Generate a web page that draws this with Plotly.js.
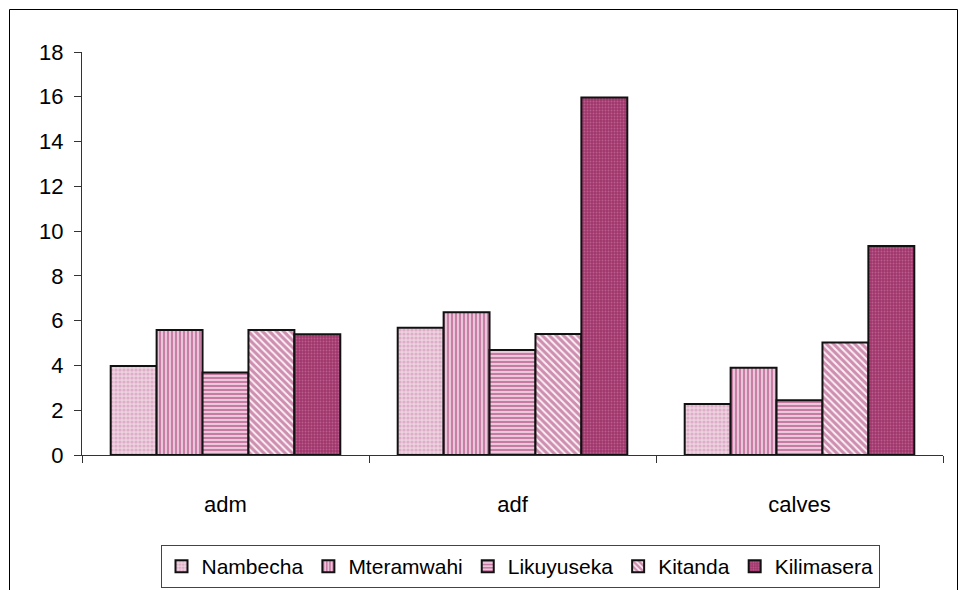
<!DOCTYPE html>
<html>
<head>
<meta charset="utf-8">
<script src="https://cdn.plot.ly/plotly-3.0.1.min.js"></script>
<style>
  html, body { margin: 0; padding: 0; background: #ffffff; }
  #chart { width: 959px; height: 590px; }
</style>
</head>
<body>
<div id="chart"></div>
<script>
// ---- data ----
var categories = ["adm", "adf", "calves"];
var seriesNames = ["Nambecha", "Mteramwahi", "Likuyuseka", "Kitanda", "Kilimasera"];
var nambecha   = [3.97, 5.68, 2.28];
var mteramwahi = [5.58, 6.38, 3.90];
var likuyuseka = [3.69, 4.69, 2.44];
var kitanda    = [5.58, 5.40, 5.03];
var kilimasera = [5.39, 15.97, 9.34];
var yTicks = [0, 2, 4, 6, 8, 10, 12, 14, 16, 18];

var seriesValues = [nambecha, mteramwahi, likuyuseka, kitanda, kilimasera];

// ---- styles (kept separate from data) ----
var styles = [
  {shape: ".",  fg: "#cf88ad", bg: "#edd2e0", size: 4, solidity: 0.5},
  {shape: "|",  fg: "#9c2865", bg: "#f3d6e4", size: 4, solidity: 0.6},
  {shape: "-",  fg: "#9c2865", bg: "#f0cfe0", size: 4, solidity: 0.55},
  {shape: "\\", fg: "#a02d69", bg: "#fbeff5", size: 5, solidity: 0.6},
  {shape: ".",  fg: "#d884ae", bg: "#9f376b", size: 3, solidity: 0.3}
];

var fontFamily = "Liberation Sans, Arial, sans-serif";
var fontSize = 22;

var traces = seriesNames.map(function (name, i) {
  var s = styles[i];
  return {
    type: "bar",
    name: name,
    x: categories,
    y: seriesValues[i],
    marker: {
      color: s.bg,
      line: {color: "#111111", width: 2},
      pattern: {
        shape: s.shape,
        fgcolor: s.fg,
        bgcolor: s.bg,
        size: s.size,
        solidity: s.solidity,
        fillmode: "overlay"
      }
    },
    hoverinfo: "x+y+name"
  };
});

// plot-area geometry in pixels
var W = 959, H = 590;
var mL = 82, mR = 16, mT = 52, mB = 135;
var pw = W - mL - mR, ph = H - mT - mB;
function px2paperX(px) { return (px - mL) / pw; }
function px2paperY(py) { return (H - mB - py) / ph; }

var layout = {
  width: W,
  height: H,
  margin: {l: mL, r: mR, t: mT, b: mB, pad: 0, autoexpand: false},
  paper_bgcolor: "#ffffff",
  plot_bgcolor: "#ffffff",
  barmode: "group",
  bargap: 0.2,
  bargroupgap: 0,
  font: {family: fontFamily, size: fontSize, color: "#000000"},
  showlegend: true,
  legend: {
    orientation: "h",
    xref: "container",
    yref: "container",
    x: 520 / W,
    xanchor: "center",
    y: 1 - 545 / H,
    yanchor: "top",
    bgcolor: "#ffffff",
    bordercolor: "#444444",
    borderwidth: 1,
    font: {family: fontFamily, size: 21, color: "#000000"},
    traceorder: "normal",
    itemwidth: 30
  },
  xaxis: {
    type: "category",
    showline: true,
    linecolor: "#333333",
    linewidth: 1,
    ticks: "outside",
    tickson: "boundaries",
    ticklen: 7,
    tickcolor: "#333333",
    tickwidth: 1,
    showgrid: false,
    zeroline: false,
    ticklabelstandoff: 30,
    automargin: false,
    tickfont: {family: fontFamily, size: fontSize, color: "#000000"}
  },
  yaxis: {
    range: [0, 18],
    tickvals: yTicks,
    ticktext: yTicks.map(String),
    showline: true,
    linecolor: "#333333",
    linewidth: 1,
    ticks: "outside",
    ticklen: 7,
    tickcolor: "#333333",
    tickwidth: 1,
    showgrid: false,
    zeroline: false,
    ticklabelstandoff: 6,
    automargin: false,
    tickfont: {family: fontFamily, size: fontSize, color: "#000000"}
  },
  shapes: [
    {
      type: "rect",
      xref: "paper", yref: "paper",
      x0: px2paperX(9.5), x1: px2paperX(957.5),
      y0: px2paperY(9.5), y1: px2paperY(620),
      line: {color: "#000000", width: 1},
      fillcolor: "rgba(0,0,0,0)",
      layer: "below"
    }
  ]
};

Plotly.newPlot("chart", traces, layout, {displayModeBar: false, staticPlot: true});
</script>
</body>
</html>
